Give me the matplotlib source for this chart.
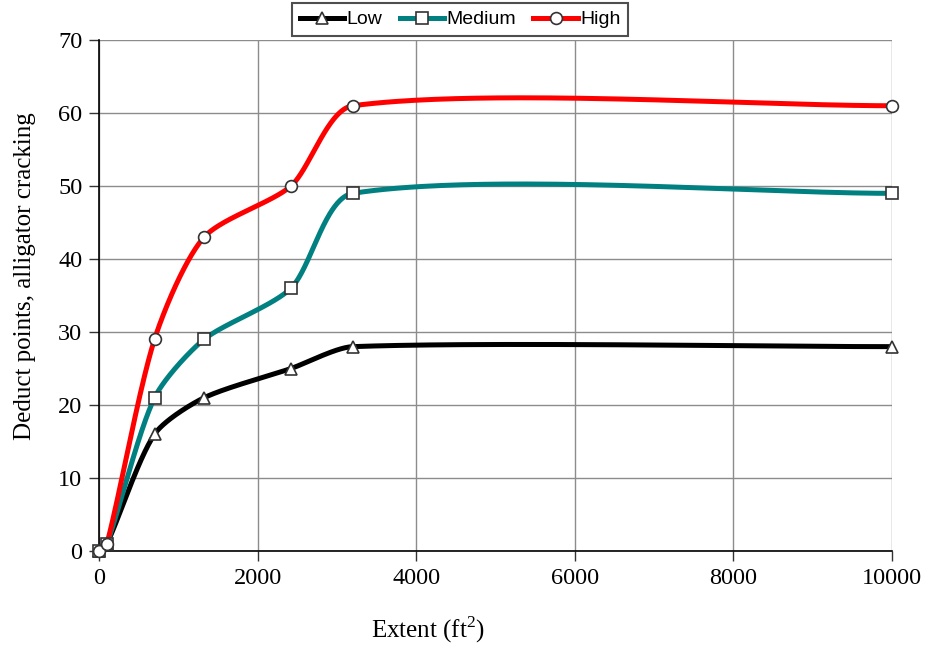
import numpy as np
import matplotlib.pyplot as plt
from matplotlib.lines import Line2D

plt.rcParams["mathtext.fontset"] = "custom"
plt.rcParams["mathtext.rm"] = "Liberation Serif"

# extent (ft^2) and deduct values per severity level
extent = [0, 100, 700, 1325, 2420, 3200, 10000]
low = [0, 1, 16, 21, 25, 28, 28]
medium = [0, 1, 21, 29, 36, 49, 49]
high = [0, 1, 29, 43, 50, 61, 61]

series = [
    ("Low", low, "black", "^"),
    ("Medium", medium, "#008080", "s"),
    ("High", high, "#ff0000", "o"),
]

# rough pixel scale of the plot area, so smoothing is done in screen space
SX = 793 / 10000
SY = 511 / 70


def smooth(xs, ys, k=0.25, n=80):
    # cubic bezier through the points; tangent from neighbours,
    # arm length proportional to the adjacent segment length
    p = np.column_stack([np.array(xs) * SX, np.array(ys) * SY]).astype(float)
    m = len(p)
    tang = []
    for i in range(m):
        a = p[i - 1] if i > 0 else p[i]
        b = p[i + 1] if i < m - 1 else p[i]
        d = b - a
        tang.append(d / np.hypot(*d))
    out = []
    for i in range(m - 1):
        p1, p2 = p[i], p[i + 1]
        L = np.hypot(*(p2 - p1))
        c1 = p1 + tang[i] * L * k
        c2 = p2 - tang[i + 1] * L * k
        t = np.linspace(0, 1, n)[:, None]
        seg = ((1 - t) ** 3) * p1 + 3 * ((1 - t) ** 2) * t * c1 \
            + 3 * (1 - t) * t ** 2 * c2 + t ** 3 * p2
        out.append(seg if i == 0 else seg[1:])
    seg = np.vstack(out)
    return seg[:, 0] / SX, seg[:, 1] / SY


fig = plt.figure(figsize=(9.28, 6.46), dpi=100)
ax = fig.add_axes([0.1067, 0.147, 0.8545, 0.791])

handles = []
for name, vals, col, mk in series:
    sx, sy = smooth(extent, vals)
    ax.plot(sx, sy, color=col, lw=3.6, zorder=3)
    ax.plot(extent, vals, ls="none", marker=mk, ms=8.5, mfc="white",
            mec="#333333", mew=1.2, zorder=4, clip_on=False)
    handles.append(Line2D([], [], color=col, lw=3.6, marker=mk, ms=8.5,
                          mfc="white", mec="#333333", mew=1.2))

ax.set_xlim(0, 10000)
ax.set_ylim(0, 70)
ax.set_xticks(np.arange(0, 10001, 2000))
ax.set_yticks(np.arange(0, 71, 10))
ax.grid(True, color="#8c8c8c", lw=1.0)
ax.set_axisbelow(True)
for s in ("top", "right"):
    ax.spines[s].set_visible(False)
for s in ("left", "bottom"):
    ax.spines[s].set_color("black")
    ax.spines[s].set_linewidth(1.2)

ax.tick_params(direction="out", length=7, width=1, color="#333333",
               labelsize=17.5, pad=5)
for lab in ax.get_xticklabels() + ax.get_yticklabels():
    lab.set_fontfamily("Liberation Serif")

fig.text(428 / 928, 1 - 630 / 646, "Extent (ft$^2$)", fontsize=18,
         fontfamily="Liberation Serif", ha="center", va="center")
fig.text(25 / 928, 1 - 276 / 646, "Deduct points, alligator cracking",
         fontsize=18, fontfamily="Liberation Serif", rotation=90,
         ha="center", va="center")

leg = fig.legend(handles, [s[0] for s in series], loc="upper center",
                 bbox_to_anchor=(460 / 928, 1 - 3 / 646), borderaxespad=0,
                 ncol=3, frameon=True, fancybox=False, edgecolor="#222222",
                 handlelength=2.3, handletextpad=0.1, columnspacing=0.9,
                 borderpad=0.4, prop={"family": "Liberation Sans", "size": 14})
leg.get_frame().set_linewidth(1.5)

fig.savefig("out.png", dpi=100)
